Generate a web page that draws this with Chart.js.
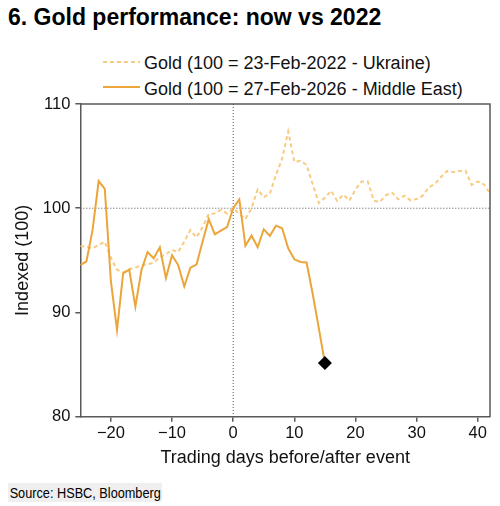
<!DOCTYPE html>
<html>
<head>
<meta charset="utf-8">
<script src="https://cdn.jsdelivr.net/npm/chart.js@4.4.1/dist/chart.umd.min.js"></script>
<style>
  html, body { margin: 0; padding: 0; background: #fff; }
  body { width: 500px; height: 506px; position: relative; overflow: hidden; font-family: "Liberation Sans", Arial, sans-serif; color: #000; }
  .title { position: absolute; left: 8px; top: 5.5px; font-size: 23px; line-height: 23px; font-weight: bold; white-space: nowrap; }
  .legend-row { position: absolute; left: 102px; height: 18px; font-size: 18px; line-height: 18px; white-space: nowrap; color: #111; }
  .legend-row svg { position: absolute; left: 0; top: 0; }
  .legend-row span { position: absolute; left: 42px; top: 0; }
  .source { position: absolute; left: 8px; top: 483px; height: 19px; line-height: 19px; padding: 0 2px; background: #efefef; font-size: 15.5px; white-space: nowrap; transform: scaleX(0.82); transform-origin: left top; }
  #wrap { position: absolute; left: 0; top: 0; width: 500px; height: 480px; }
</style>
</head>
<body>
<div class="title">6. Gold performance: now vs 2022</div>
<div class="legend-row" style="top:54px">
  <svg width="40" height="18"><line x1="1" y1="8" x2="38" y2="8" stroke="#f7cc80" stroke-width="2" stroke-dasharray="4,3"/></svg>
  <span>Gold (100 = 23-Feb-2022 - Ukraine)</span>
</div>
<div class="legend-row" style="top:80px">
  <svg width="40" height="18"><line x1="1" y1="7" x2="38" y2="7" stroke="#eba53a" stroke-width="2"/></svg>
  <span>Gold (100 = 27-Feb-2026 - Middle East)</span>
</div>
<div id="wrap"><canvas id="goldChart"></canvas></div>
<div class="source">Source: HSBC, Bloomberg</div>

<script>
// Trading days relative to the event (day 0)
const days = [-25, -24, -23, -22, -21, -20, -19, -18, -17, -16, -15, -14, -13, -12, -11, -10, -9, -8, -7, -6,
    -5, -4, -3, -2, -1, 0, 1, 2, 3, 4, 5, 6, 7, 8, 9, 10, 11, 12, 13, 14, 15, 16, 17, 18, 19, 20,
    21, 22, 23, 24, 25, 26, 27, 28, 29, 30, 31, 32, 33, 34, 35, 36, 37, 38, 39, 40, 41, 42];

// Gold indexed to 100 on 23-Feb-2022 (Ukraine), days -25..42
const ukraine2022 = [96.38, 96.3, 96.15, 96.47, 96.8, 95.25, 94.1, 93.85, 94.14, 94.3,
    94.55, 94.6, 94.78, 95.3, 95.58, 96.0, 95.8, 96.8, 97.9, 97.2,
    98.2, 99.45, 99.5, 99.84, 99.5, 100, 99.45, 98.97, 100.0, 101.8,
    101.05, 101.4, 103.2, 104.75, 107.36, 104.45, 104.55, 104.16, 102.3, 100.5,
    101.0, 101.68, 100.7, 101.3, 100.73, 101.8, 102.56, 102.56, 100.73, 100.62,
    101.25, 101.5, 100.86, 101.2, 100.75, 100.88, 101.2, 102.0, 102.35, 103.0,
    103.58, 103.45, 103.58, 103.6, 102.24, 102.56, 102.3, 101.44];

// Gold indexed to 100 on 27-Feb-2026 (Middle East), days -25..15
const middleEast2026 = [94.55, 94.9, 97.9, 102.6, 101.85, 93.0, 88.3, 93.75, 94.1, 90.55,
    94.07, 95.8, 95.2, 96.25, 93.3, 95.5, 94.55, 92.5, 94.3, 94.6,
    96.8, 98.95, 97.5, 97.85, 98.2, 100, 100.85, 96.4, 97.37, 96.25,
    97.98, 97.35, 98.33, 98.08, 96.16, 95.1, 94.85, 94.8, 91.8, 88.5,
    85.15];

const xTicks = [-20, -10, 0, 10, 20, 30, 40];
const yTicks = [80, 90, 100, 110];

const axisColor = '#595959';
const font = 'Liberation Sans';

// Dotted reference lines at day 0 / index 100, plus the frame box
const refLines = {
    id: 'refLines',
    beforeDatasetsDraw(chart) {
        const { ctx, chartArea: a, scales: { x, y } } = chart;
        const px = x.getPixelForValue(0);
        const py = y.getPixelForValue(100);
        ctx.save();
        ctx.strokeStyle = '#555';
        ctx.lineWidth = 1;
        ctx.setLineDash([1, 2]);
        ctx.beginPath();
        ctx.moveTo(px, a.top);
        ctx.lineTo(px, a.bottom);
        ctx.moveTo(a.left, py);
        ctx.lineTo(a.right, py);
        ctx.stroke();
        ctx.restore();
    },
    afterDraw(chart) {
        const { ctx, chartArea: a } = chart;
        ctx.save();
        ctx.strokeStyle = axisColor;
        ctx.lineWidth = 1.5;
        ctx.beginPath();
        ctx.moveTo(a.left, a.top);
        ctx.lineTo(a.right, a.top);
        ctx.lineTo(a.right, a.bottom);
        ctx.stroke();
        ctx.restore();
    }
};

function toPoints(values) {
    return values.map((v, i) => ({ x: days[i], y: v }));
}

const lastME = middleEast2026.length - 1;

new Chart(document.getElementById('goldChart').getContext('2d'), {
    type: 'line',
    data: {
        datasets: [
            {
                label: 'Gold (100 = 27-Feb-2026 - Middle East)',
                data: toPoints(middleEast2026),
                borderColor: '#eba53a',
                borderWidth: 2,
                tension: 0,
                order: 0,
                pointStyle: 'rectRot',
                pointRadius: c => c.dataIndex === lastME ? 7 : 0,
                pointHoverRadius: 0,
                pointBackgroundColor: '#000',
                pointBorderColor: '#000',
                pointBorderWidth: 0
            },
            {
                label: 'Gold (100 = 23-Feb-2022 - Ukraine)',
                data: toPoints(ukraine2022),
                borderColor: '#f7cc80',
                borderWidth: 2,
                borderDash: [4, 3],
                tension: 0,
                order: 1,
                pointRadius: 0
            }
        ]
    },
    options: {
        responsive: true,
        maintainAspectRatio: false,
        animation: false,
        layout: { padding: { top: 104, right: 10, left: 8.2, bottom: 6.9 } },
        plugins: {
            legend: { display: false },
            tooltip: { enabled: false }
        },
        scales: {
            x: {
                type: 'linear',
                min: -25,
                max: 42,
                afterBuildTicks: axis => { axis.ticks = xTicks.map(v => ({ value: v })); },
                grid: { drawOnChartArea: false, drawTicks: true, tickLength: 5, color: axisColor, lineWidth: 1.5 },
                border: { display: true, color: axisColor, width: 1.5 },
                ticks: {
                    color: '#111',
                    font: { family: font, size: 16.5 },
                    padding: 2,
                    maxRotation: 0,
                    callback: v => String(v).replace('-', '\u2212')
                },
                title: {
                    display: true,
                    text: 'Trading days before/after event',
                    color: '#111',
                    font: { family: font, size: 18 },
                    padding: { top: 2, bottom: 4 }
                }
            },
            y: {
                min: 80,
                max: 110,
                afterBuildTicks: axis => { axis.ticks = yTicks.map(v => ({ value: v })); },
                grid: { drawOnChartArea: false, drawTicks: true, tickLength: 5, color: axisColor, lineWidth: 1.5 },
                border: { display: true, color: axisColor, width: 1.5 },
                ticks: {
                    color: '#111',
                    font: { family: font, size: 16.5 },
                    padding: 5
                },
                title: {
                    display: true,
                    text: 'Indexed (100)',
                    color: '#111',
                    font: { family: font, size: 18 },
                    padding: { top: 4, bottom: 4 }
                }
            }
        }
    },
    plugins: [refLines]
});
</script>
</body>
</html>
